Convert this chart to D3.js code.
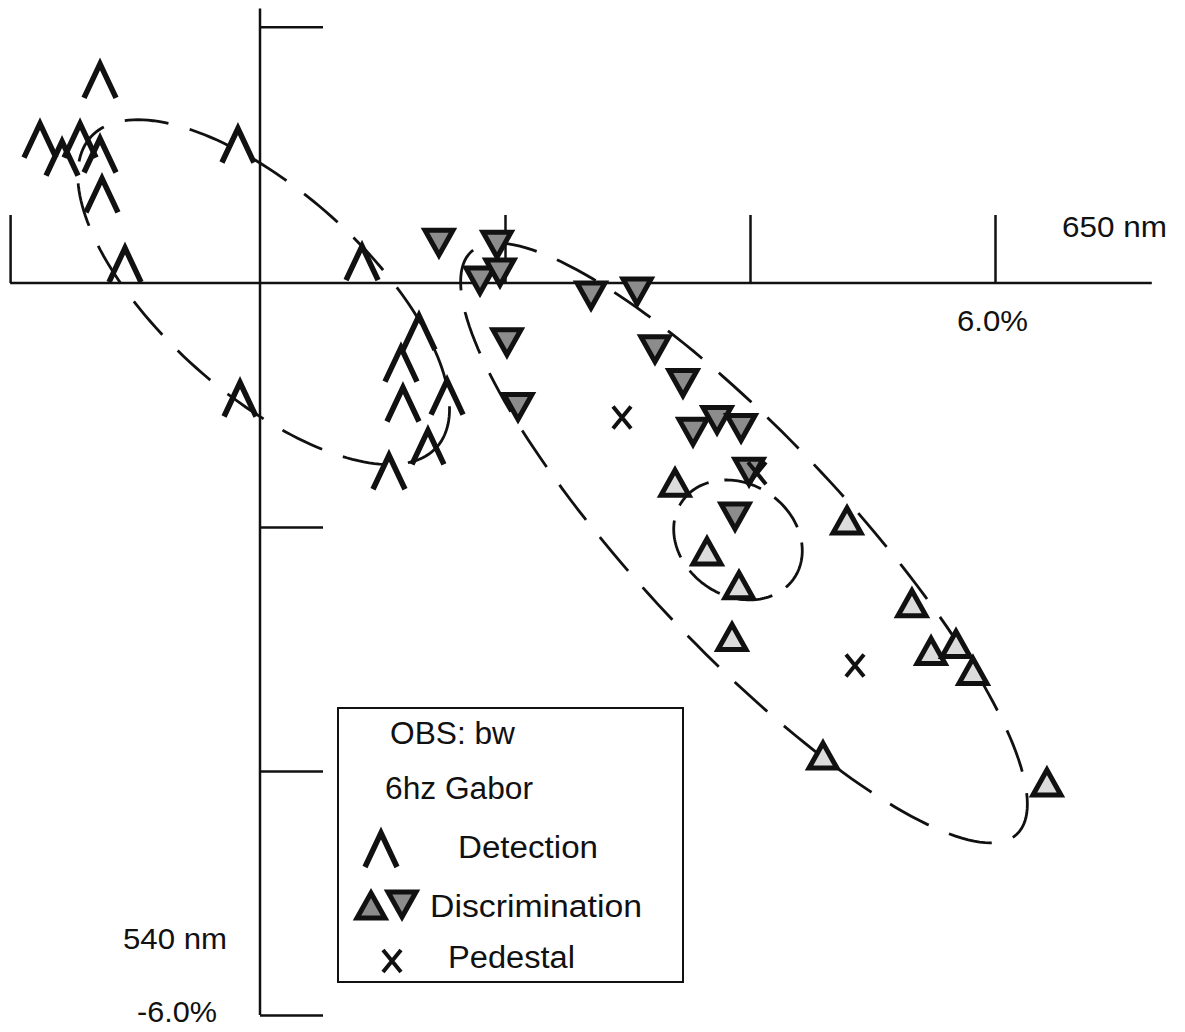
<!DOCTYPE html>
<html>
<head>
<meta charset="utf-8">
<script src="https://cdn.jsdelivr.net/npm/d3@7"></script>
<style>
  html, body { margin: 0; padding: 0; background: #fff; }
  svg { display: block; }
  text { font-family: "Liberation Sans", Arial, Helvetica, sans-serif; fill: #111; }
</style>
</head>
<body>
<svg id="chart" width="1185" height="1032"></svg>
<script>
// values, in % contrast (x: 650 nm axis, y: 540 nm axis)
const xTicks = [-2.04, 2, 4, 6];
const yTicks = [2.1, -2, -4, -6];

const detection = [
  [-1.306, 1.657], [-1.796, 1.167], [-1.616, 1.020], [-1.469, 1.167],
  [-1.306, 1.045], [-1.290, 0.718], [-1.102, 0.147], [-0.180, 1.127],
  [0.833, 0.163], [1.298, -0.408], [1.151, -0.669], [1.167, -0.996],
  [1.527, -0.939], [1.371, -1.347], [1.053, -1.551], [-0.163, -0.955]
];

const discDown = [
  [1.461, 0.335], [1.935, 0.318], [1.796, 0.024], [1.959, 0.090],
  [2.702, -0.098], [3.078, -0.065], [2.016, -0.482], [2.106, -1.012],
  [3.224, -0.539], [3.453, -0.816], [3.535, -1.216], [3.731, -1.118],
  [3.927, -1.184], [3.992, -1.543], [3.878, -1.910]
];

const discUp = [
  [3.388, -1.641], [3.649, -2.204], [3.910, -2.482], [3.853, -2.906],
  [4.792, -1.951], [5.322, -2.629], [5.478, -3.020], [5.682, -2.963],
  [5.820, -3.184], [4.596, -3.878], [6.424, -4.098]
];

const pedestal = [[2.955, -1.102], [4.057, -1.559], [4.857, -3.135]];

// threshold ellipses: centre, semi-axes (in %), tilt in degrees
const ellipses = [
  { cx: 0.030, cy: -0.075, a: 1.90, b: 0.83, angle: -42 },
  { cx: 3.951, cy: -2.131, a: 3.265, b: 0.857, angle: -47 },
  { cx: 3.902, cy: -2.106, a: 0.555, b: 0.457, angle: -35 }
];

const legendLines = ['OBS: bw', '6hz Gabor'];
const legendItems = ['Detection', 'Discrimination', 'Pedestal'];

const svg = d3.select('#chart');

const x = d3.scaleLinear().domain([0, 6]).range([260, 995]);
const y = d3.scaleLinear().domain([0, -6]).range([283, 1015]);

// axis lines
svg.append('line')
  .attr('x1', x(-2.04)).attr('x2', x(7.28))
  .attr('y1', y(0)).attr('y2', y(0))
  .attr('stroke', '#111').attr('stroke-width', 2.5);
svg.append('line')
  .attr('x1', x(0)).attr('x2', x(0))
  .attr('y1', y(2.25)).attr('y2', y(-6))
  .attr('stroke', '#111').attr('stroke-width', 2.5);

const xAxis = d3.axisTop(x).tickValues(xTicks).tickSize(68).tickFormat('');
const yAxis = d3.axisRight(y).tickValues(yTicks).tickSize(63).tickFormat('');

svg.append('g')
  .attr('transform', `translate(0,${y(0)})`)
  .call(xAxis)
  .call(g => g.select('.domain').remove())
  .selectAll('line').attr('stroke', '#111').attr('stroke-width', 2.5);

svg.append('g')
  .attr('transform', `translate(${x(0)},0)`)
  .call(yAxis)
  .call(g => g.select('.domain').remove())
  .selectAll('line').attr('stroke', '#111').attr('stroke-width', 2.5);

// axis labels
const labels = [
  { t: '650 nm', x: 1062, y: 237, w: 105 },
  { t: '6.0%', x: 957, y: 331, w: 71 },
  { t: '540 nm', x: 123, y: 949, w: 104 },
  { t: '-6.0%', x: 137, y: 1022, w: 80 }
];
svg.selectAll('text.lab')
  .data(labels)
  .enter().append('text')
    .attr('class', 'lab')
    .attr('x', d => d.x).attr('y', d => d.y)
    .attr('font-size', 30)
    .attr('textLength', d => d.w)
    .attr('lengthAdjust', 'spacingAndGlyphs')
    .text(d => d.t);

// dashed ellipses, traced through the scales
const ellipsePoints = (e) => {
  const phi = e.angle * Math.PI / 180;
  return d3.range(0, 360, 2).map((deg) => {
    const t = deg * Math.PI / 180;
    const ex = e.a * Math.cos(t), ey = e.b * Math.sin(t);
    return [e.cx + ex * Math.cos(phi) - ey * Math.sin(phi),
            e.cy + ex * Math.sin(phi) + ey * Math.cos(phi)];
  });
};
const ellLine = d3.line()
  .x(d => x(d[0])).y(d => y(d[1]))
  .curve(d3.curveLinearClosed);

svg.append('g')
  .selectAll('path')
  .data(ellipses)
  .enter().append('path')
    .attr('d', d => ellLine(ellipsePoints(d)))
    .attr('fill', 'none')
    .attr('stroke', '#111')
    .attr('stroke-width', 2.8)
    .attr('stroke-dasharray', (d, i) => i === 2 ? '38,16' : '44,22');

// marker shapes
const lambda = 'M-16,17L0,-17L16,17';
const triUp = 'M0,-13L14,12L-14,12Z';
const triDown = 'M0,13L14,-12L-14,-12Z';
const cross = 'M-9,-11L9,11M9,-11L-9,11';

const markers = svg.append('g');

markers.selectAll('path.det')
  .data(detection)
  .enter().append('path')
    .attr('class', 'det')
    .attr('transform', d => `translate(${x(d[0])},${y(d[1])})`)
    .attr('d', lambda)
    .attr('fill', 'none').attr('stroke', '#111')
    .attr('stroke-width', 5.5).attr('stroke-linejoin', 'miter');

markers.selectAll('path.down')
  .data(discDown)
  .enter().append('path')
    .attr('class', 'down')
    .attr('transform', d => `translate(${x(d[0])},${y(d[1])})`)
    .attr('d', triDown)
    .attr('fill', '#8c8c8c').attr('stroke', '#111')
    .attr('stroke-width', 5).attr('stroke-linejoin', 'miter');

markers.selectAll('path.up')
  .data(discUp)
  .enter().append('path')
    .attr('class', 'up')
    .attr('transform', d => `translate(${x(d[0])},${y(d[1])})`)
    .attr('d', triUp)
    .attr('fill', '#dcdcdc').attr('stroke', '#111')
    .attr('stroke-width', 5).attr('stroke-linejoin', 'miter');

markers.selectAll('path.ped')
  .data(pedestal)
  .enter().append('path')
    .attr('class', 'ped')
    .attr('transform', d => `translate(${x(d[0])},${y(d[1])})`)
    .attr('d', cross)
    .attr('fill', 'none').attr('stroke', '#111').attr('stroke-width', 4);

// legend box
const legend = svg.append('g');
legend.append('rect')
  .attr('x', 338).attr('y', 708).attr('width', 345).attr('height', 274)
  .attr('fill', '#fff').attr('stroke', '#111').attr('stroke-width', 2);

const legendText = [
  { t: legendLines[0], x: 390, y: 744, w: 125 },
  { t: legendLines[1], x: 385, y: 799, w: 148 },
  { t: legendItems[0], x: 458, y: 858, w: 140 },
  { t: legendItems[1], x: 430, y: 917, w: 212 },
  { t: legendItems[2], x: 448, y: 968, w: 127 }
];
legend.selectAll('text')
  .data(legendText)
  .enter().append('text')
    .attr('x', d => d.x).attr('y', d => d.y)
    .attr('font-size', 31)
    .attr('textLength', d => d.w)
    .attr('lengthAdjust', 'spacingAndGlyphs')
    .text(d => d.t);

legend.append('path')
  .attr('transform', 'translate(381,850)')
  .attr('d', lambda)
  .attr('fill', 'none').attr('stroke', '#111').attr('stroke-width', 5.5);
legend.append('path')
  .attr('transform', 'translate(371,906)')
  .attr('d', triUp)
  .attr('fill', '#8c8c8c').attr('stroke', '#111').attr('stroke-width', 5);
legend.append('path')
  .attr('transform', 'translate(402,904)')
  .attr('d', triDown)
  .attr('fill', '#8c8c8c').attr('stroke', '#111').attr('stroke-width', 5);
legend.append('path')
  .attr('transform', 'translate(392,961)')
  .attr('d', cross)
  .attr('fill', 'none').attr('stroke', '#111').attr('stroke-width', 4);
</script>
</body>
</html>
